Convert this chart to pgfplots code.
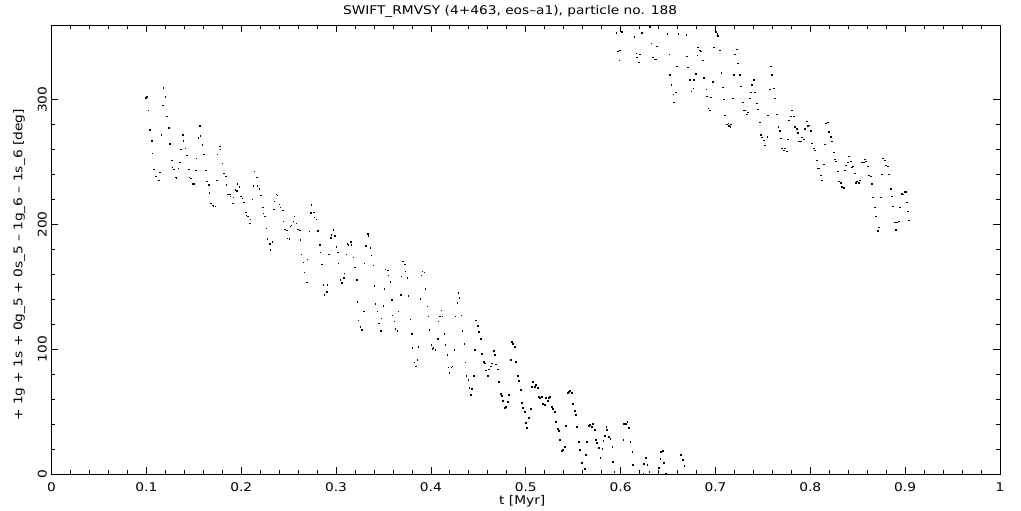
\documentclass[border=0pt]{standalone}
\usepackage{fontspec}
\setmainfont{DejaVu Sans}[FakeStretch=1.15]
\usepackage{pgfplots}
\pgfplotsset{compat=1.18}
\pgfplotstableread{
t y
0.0989 301.4
0.0999 302.2
0.1020 291.7
0.1031 275.7
0.1052 266.9
0.1062 257.2
0.1073 244.4
0.1093 238.8
0.1104 238.8
0.1126 235.6
0.1136 242.0
0.1157 271.7
0.1168 295.7
0.1178 309.4
0.1199 302.2
0.1210 286.9
0.1231 277.3
0.1242 264.5
0.1263 251.6
0.1273 246.0
0.1284 244.4
0.1305 238.0
0.1315 237.2
0.1336 245.2
0.1347 250.0
0.1358 260.4
0.1379 271.7
0.1389 266.9
0.1410 261.2
0.1421 255.6
0.1442 244.4
0.1452 238.0
0.1463 237.2
0.1484 232.4
0.1495 232.4
0.1516 243.6
0.1526 253.2
0.1547 269.3
0.1558 278.9
0.1568 270.9
0.1589 263.7
0.1600 256.4
0.1621 243.6
0.1632 234.8
0.1653 231.6
0.1663 225.2
0.1674 217.1
0.1695 215.5
0.1705 215.2
0.1726 214.7
0.1737 235.6
0.1747 256.4
0.1769 262.8
0.1779 260.4
0.1800 249.2
0.1811 241.2
0.1832 238.8
0.1842 231.6
0.1853 224.3
0.1874 224.3
0.1884 222.7
0.1906 217.1
0.1916 221.9
0.1937 227.6
0.1948 226.8
0.1958 232.4
0.1979 230.0
0.1990 222.7
0.2011 221.1
0.2022 217.9
0.2043 209.9
0.2053 207.5
0.2064 206.7
0.2085 201.1
0.2095 204.3
0.2116 220.3
0.2127 230.8
0.2137 242.8
0.2159 238.0
0.2169 230.8
0.2190 228.4
0.2201 223.5
0.2222 213.9
0.2232 209.1
0.2243 206.7
0.2264 197.1
0.2274 188.3
0.2296 185.0
0.2306 180.2
0.2327 186.6
0.2338 212.3
0.2348 218.7
0.2369 224.3
0.2380 223.5
0.2401 216.3
0.2411 213.9
0.2433 211.5
0.2443 202.7
0.2454 196.3
0.2475 195.5
0.2485 189.1
0.2506 188.3
0.2517 198.7
0.2527 199.5
0.2548 202.7
0.2559 206.7
0.2580 201.1
0.2591 196.3
0.2612 195.5
0.2622 187.5
0.2633 176.2
0.2654 169.8
0.2664 161.8
0.2686 153.8
0.2696 172.2
0.2717 194.7
0.2728 209.3
0.2738 215.8
0.2760 209.9
0.2770 205.9
0.2791 204.3
0.2802 195.4
0.2823 184.2
0.2833 177.8
0.2844 168.2
0.2865 152.1
0.2875 144.1
0.2897 146.5
0.2907 152.1
0.2918 176.2
0.2939 189.8
0.2949 192.2
0.2970 196.2
0.2981 191.4
0.3002 182.6
0.3013 177.8
0.3023 169.0
0.3044 156.1
0.3055 153.7
0.3076 157.7
0.3086 161.0
0.3107 176.2
0.3118 185.0
0.3128 184.2
0.3150 186.6
0.3160 184.2
0.3181 173.8
0.3192 165.8
0.3213 156.1
0.3223 138.5
0.3234 123.3
0.3255 118.4
0.3266 116.0
0.3287 130.5
0.3297 169.0
0.3308 183.4
0.3329 193.0
0.3339 191.4
0.3360 181.8
0.3371 175.4
0.3392 167.4
0.3402 151.3
0.3413 136.9
0.3434 130.5
0.3445 120.9
0.3466 115.2
0.3476 124.9
0.3497 135.3
0.3508 148.9
0.3518 164.2
0.3540 163.4
0.3550 159.4
0.3571 154.5
0.3582 140.1
0.3592 127.3
0.3613 122.5
0.3624 116.8
0.3645 115.2
0.3655 130.5
0.3677 144.1
0.3687 158.6
0.3698 170.6
0.3719 168.2
0.3729 162.6
0.3750 157.7
0.3761 143.3
0.3782 124.1
0.3793 112.8
0.3803 101.6
0.3824 89.6
0.3835 86.4
0.3856 92.0
0.3866 102.4
0.3887 140.9
0.3898 159.4
0.3908 162.6
0.3929 161.8
0.3940 148.9
0.3961 134.5
0.3972 126.5
0.3982 116.0
0.4003 104.0
0.4014 100.8
0.4024 101.6
0.4045 100.0
0.4067 108.8
0.4077 122.5
0.4088 126.5
0.4109 131.3
0.4119 126.5
0.4140 112.8
0.4151 104.0
0.4172 96.0
0.4182 85.6
0.4193 81.5
0.4214 85.6
0.4225 86.4
0.4246 100.0
0.4256 126.5
0.4277 137.7
0.4288 145.7
0.4298 141.7
0.4319 127.3
0.4330 115.2
0.4351 104.8
0.4362 89.6
0.4372 79.1
0.4393 75.9
0.4404 69.5
0.4421 63.9
0.4432 68.7
0.4453 79.1
0.4464 100.0
0.4474 123.3
0.4495 119.2
0.4506 114.4
0.4527 108.8
0.4537 96.8
0.4558 90.4
0.4569 88.8
0.4580 83.2
0.4601 79.1
0.4611 84.0
0.4632 86.4
0.4643 88.8
0.4664 99.2
0.4674 96.0
0.4685 88.0
0.4706 84.0
0.4716 74.3
0.4738 64.7
0.4748 63.1
0.4759 59.1
0.4780 53.5
0.4790 54.3
0.4811 58.3
0.4822 63.9
0.4843 92.0
0.4854 106.4
0.4864 104.8
0.4885 102.4
0.4896 90.4
0.4917 79.1
0.4927 75.1
0.4948 67.9
0.4959 57.5
0.4969 53.5
0.4990 50.3
0.5001 41.4
0.5011 37.4
0.5033 45.5
0.5054 52.7
0.5064 70.3
0.5075 74.3
0.5096 70.3
0.5106 71.9
0.5127 69.5
0.5138 62.3
0.5149 61.5
0.5170 62.3
0.5180 56.7
0.5201 55.9
0.5212 61.5
0.5233 59.1
0.5243 61.5
0.5254 62.3
0.5275 54.3
0.5286 52.7
0.5307 50.3
0.5317 42.2
0.5338 36.6
0.5349 35.0
0.5359 27.8
0.5380 19.0
0.5391 19.8
0.5412 22.2
0.5422 39.0
0.5444 65.5
0.5454 66.3
0.5465 67.1
0.5486 65.5
0.5496 56.7
0.5517 51.1
0.5528 47.9
0.5538 38.2
0.5560 26.2
0.5570 19.8
0.5591 9.4
0.5623 4.5
0.5633 15.8
0.5644 26.2
0.5665 39.0
0.5676 39.8
0.5697 38.2
0.5707 40.6
0.5728 35.8
0.5739 27.8
0.5749 25.4
0.5770 21.4
0.5785 13.4
0.5806 20.6
0.5816 27.0
0.5837 31.0
0.5848 38.2
0.5858 35.8
0.5879 30.2
0.5890 28.6
0.5911 22.2
0.5921 10.2
0.5932 2.1
0.5953 353.5
0.5964 339.0
0.5974 339.0
0.5985 331.8
0.5995 339.8
0.6006 354.3
0.6016 354.3
0.6027 27.8
0.6037 40.6
0.6058 40.6
0.6069 42.2
0.6090 37.4
0.6101 26.2
0.6122 18.2
0.6132 7.8
0.6143 350.3
0.6164 337.4
0.6174 334.2
0.6195 330.2
0.6206 336.6
0.6227 353.5
0.6238 0.5
0.6248 8.6
0.6269 13.4
0.6280 7.8
0.6301 2.1
0.6311 358.3
0.6322 345.4
0.6343 334.2
0.6364 332.6
0.6375 332.6
0.6385 343.0
0.6406 5.3
0.6417 12.6
0.6427 18.2
0.6448 19.0
0.6459 9.4
0.6480 0.5
0.6491 352.7
0.6512 336.6
0.6522 319.8
0.6533 311.8
0.6554 304.5
0.6564 298.1
0.6585 306.1
0.6596 327.0
0.6607 352.7
0.6628 15.8
0.6638 15.8
0.6659 11.8
0.6670 7.0
0.6691 351.9
0.6701 335.0
0.6712 326.2
0.6733 315.8
0.6744 306.9
0.6765 309.3
0.6775 315.8
0.6796 320.6
0.6807 335.8
0.6817 342.2
0.6838 339.8
0.6849 339.0
0.6870 331.8
0.6880 317.4
0.6902 308.5
0.6912 302.9
0.6923 293.3
0.6944 291.7
0.6954 302.1
0.6975 314.2
0.6986 342.2
0.7007 354.3
0.7018 352.7
0.7028 351.1
0.7049 339.8
0.7060 321.4
0.7081 310.1
0.7091 300.5
0.7102 287.7
0.7123 280.5
0.7134 281.3
0.7144 278.9
0.7155 278.1
0.7165 280.5
0.7186 301.3
0.7197 319.8
0.7207 336.6
0.7228 340.6
0.7239 329.4
0.7260 319.8
0.7270 310.9
0.7291 298.1
0.7302 291.7
0.7313 291.7
0.7334 288.5
0.7344 290.1
0.7362 301.3
0.7373 306.1
0.7383 311.8
0.7404 315.8
0.7415 306.1
0.7436 297.3
0.7446 292.5
0.7467 282.1
0.7481 272.4
0.7492 270.0
0.7513 267.6
0.7523 263.6
0.7545 270.8
0.7555 287.7
0.7576 308.5
0.7587 327.0
0.7597 319.8
0.7618 309.3
0.7629 301.3
0.7650 288.5
0.7661 278.1
0.7682 274.9
0.7692 269.2
0.7703 261.2
0.7724 259.6
0.7734 261.2
0.7755 258.8
0.7766 268.4
0.7776 283.7
0.7797 286.9
0.7808 291.7
0.7829 286.9
0.7839 278.1
0.7861 276.5
0.7871 273.3
0.7882 266.8
0.7903 266.8
0.7913 270.0
0.7934 268.4
0.7945 276.5
0.7966 282.9
0.7977 278.9
0.7987 279.7
0.8008 274.9
0.8019 265.2
0.8040 261.2
0.8050 259.6
0.8072 251.6
0.8082 245.2
0.8093 245.2
0.8114 239.6
0.8124 235.6
0.8145 248.4
0.8156 264.4
0.8166 281.3
0.8187 282.1
0.8198 274.1
0.8219 270.8
0.8230 266.8
0.8251 258.0
0.8261 252.4
0.8272 250.8
0.8293 242.8
0.8303 234.8
0.8325 233.9
0.8335 230.7
0.8356 229.9
0.8367 243.6
0.8377 247.6
0.8398 250.0
0.8409 254.8
0.8430 250.8
0.8440 246.0
0.8451 246.8
0.8472 241.2
0.8483 233.9
0.8493 234.8
0.8514 233.9
0.8525 235.6
0.8546 250.0
0.8556 250.0
0.8567 250.0
0.8578 252.4
0.8588 250.8
0.8609 246.8
0.8620 239.6
0.8641 238.8
0.8651 233.1
0.8662 221.9
0.8683 213.9
0.8693 206.7
0.8715 195.4
0.8725 197.9
0.8746 221.9
0.8757 240.4
0.8767 253.2
0.8788 251.6
0.8799 247.6
0.8820 246.8
0.8831 240.4
0.8852 229.1
0.8862 222.7
0.8873 214.7
0.8894 201.9
0.8904 196.2
0.8915 201.9
0.8936 202.7
0.8946 213.9
0.8967 225.1
0.8978 224.3
0.8999 226.7
0.9010 226.7
0.9020 217.9
0.9031 210.7
0.9041 203.5
}\datatable
\begin{document}
\begin{tikzpicture}
\begin{axis}[
  scale only axis,
  width=948.5bp, height=449bp,
  xmin=0, xmax=1, ymin=0, ymax=360,
  axis line style={line width=0.8bp, black},
  every tick/.style={line width=0.8bp, black},
  tick align=inside,
  major tick length=7bp,
  minor tick length=4bp,
  xtick={0,0.1,0.2,0.3,0.4,0.5,0.6,0.7,0.8,0.9,1},
  xticklabels={0,0.1,0.2,0.3,0.4,0.5,0.6,0.7,0.8,0.9,1},
  ytick={0,100,200,300},
  yticklabels={0,100,200,300},
  minor x tick num=4,
  minor y tick num=4,
  tick label style={font=\fontsize{12}{14}\selectfont},
  xticklabel style={anchor=base},
  xticklabel shift=17bp,
  yticklabel style={anchor=base, rotate=90},
  yticklabel shift=5bp,
  title={SWIFT\_RMVSY (4+463, eos{\textendash}a1), particle no. 188},
  title style={at={(0.4834,1.011)}, anchor=base, font=\fontsize{12}{14}\selectfont},
  xlabel={t [Myr]},
  xlabel style={at={(0.4963,-0.069)}, anchor=base, font=\fontsize{12}{14}\selectfont},
  ylabel={+ 1g + 1s + 0g\_5 + 0s\_5 {\textendash} 1g\_6 {\textendash} 1s\_6 [deg]},
  ylabel style={at={(-0.0306,0.4655)}, anchor=base, font=\fontsize{12}{14}\selectfont},
]
\addplot[only marks, mark=square*, mark size=0.45bp, mark options={draw=none, fill=black}] table[x=t, y=y] {\datatable};
\end{axis}
\pgfresetboundingbox
\path[use as bounding box] (-51.5bp,-37bp) rectangle (969.5bp,474bp);
\end{tikzpicture}
\end{document}
